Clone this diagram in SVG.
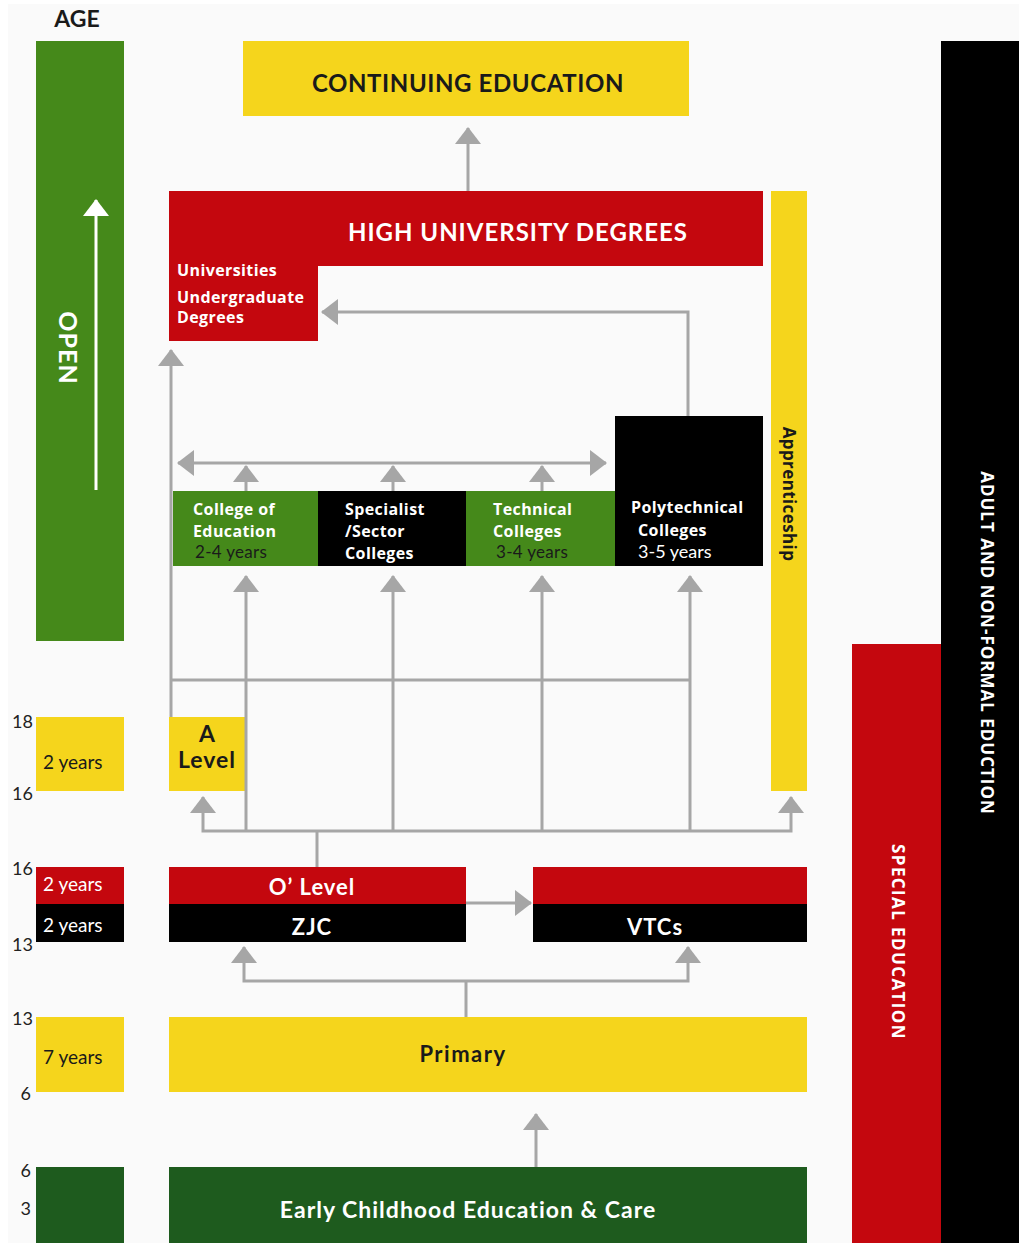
<svg xmlns="http://www.w3.org/2000/svg" width="1019" height="1243" viewBox="0 0 1019 1243">
<defs>
<style>
text{font-family:Lato,"Open Sans","Liberation Sans",sans-serif}
.os{font-family:"Open Sans",Lato,"Liberation Sans",sans-serif;font-weight:bold}
.conn{fill:none;stroke:#a6a6a6;stroke-width:3}
.yel{fill:#f5d51c}
.red{fill:#c4070e}
.grn{fill:#45891a}
.dgrn{fill:#1e5b1e}
.blk{fill:#000}
.age{font-size:18px;fill:#222;text-anchor:end}
.yrs{font-size:19px}
.wb{fill:#fff;font-weight:bold}
.col{font-size:16px;fill:#fff;letter-spacing:0.4px}
.yr2{font-size:17px;fill:#1a1a1a;letter-spacing:0.3px}
</style>
<marker id="ah" markerUnits="userSpaceOnUse" markerWidth="17" markerHeight="26" viewBox="0 0 17 26" refX="16" refY="13" orient="auto-start-reverse">
<path d="M0,0 L17,13 L0,26 z" fill="#a6a6a6"/>
</marker>
<marker id="wh" markerUnits="userSpaceOnUse" markerWidth="17" markerHeight="26" viewBox="0 0 17 26" refX="16" refY="13" orient="auto">
<path d="M0,0 L17,13 L0,26 z" fill="#fff"/>
</marker>
</defs>
<rect width="1019" height="1243" fill="#fff"/>
<rect x="8" y="4" width="1011" height="1239" fill="#fafafa"/>

<g id="age-axis">
<text x="77" y="27" font-size="23" font-weight="bold" text-anchor="middle" fill="#1a1a1a">AGE</text>
<text class="age" x="33" y="728">18</text>
<text class="age" x="33" y="800">16</text>
<text class="age" x="33" y="875">16</text>
<text class="age" x="33" y="951">13</text>
<text class="age" x="33" y="1025">13</text>
<text class="age" x="31" y="1100">6</text>
<text class="age" x="31" y="1177">6</text>
<text class="age" x="31" y="1215">3</text>
</g>

<g id="open">
<rect class="grn" x="36" y="41" width="88" height="600"/>
<path d="M96,490 V200" stroke="#fff" stroke-width="3" fill="none" marker-end="url(#wh)"/>
<text class="wb" font-size="25" transform="translate(59,348) rotate(90)" text-anchor="middle" letter-spacing="1">OPEN</text>
</g>

<g id="dur-alevel">
<rect class="yel" x="36" y="717" width="88" height="74"/>
<text class="yrs" x="43" y="769" fill="#1a1a1a">2 years</text>
</g>
<g id="dur-olevel">
<rect class="red" x="36" y="867" width="88" height="37"/>
<text class="yrs" x="43" y="891" fill="#fff">2 years</text>
</g>
<g id="dur-zjc">
<rect class="blk" x="36" y="904" width="88" height="38"/>
<text class="yrs" x="43" y="932" fill="#fff">2 years</text>
</g>
<g id="dur-primary">
<rect class="yel" x="36" y="1017" width="88" height="75"/>
<text class="yrs" x="43" y="1064" fill="#1a1a1a">7 years</text>
</g>
<g id="dur-ece">
<rect class="dgrn" x="36" y="1167" width="88" height="76"/>
</g>

<g id="continuing">
<rect class="yel" x="243" y="41" width="446" height="75"/>
<text x="468" y="92" font-size="24" font-weight="bold" text-anchor="middle" fill="#1a1a1a" letter-spacing="0.6">CONTINUING EDUCATION</text>
</g>

<g id="university">
<path class="red" d="M169,191 H763 V266 H318 V341 H169 z"/>
<text class="wb" x="518" y="241" font-size="24" text-anchor="middle" letter-spacing="1">HIGH UNIVERSITY DEGREES</text>
<text class="os col" x="177" y="276">Universities</text>
<text class="os col" x="177" y="303">Undergraduate</text>
<text class="os col" x="177" y="323">Degrees</text>
</g>

<g id="apprenticeship">
<rect class="yel" x="771" y="191" width="36" height="600"/>
<text class="os" font-size="17" fill="#1a1a1a" transform="translate(783,494) rotate(90)" text-anchor="middle" letter-spacing="0.4">Apprenticeship</text>
</g>

<g id="adult">
<rect class="blk" x="941" y="41" width="78" height="1202"/>
<text class="os" font-size="17" fill="#fff" transform="translate(981,643) rotate(90)" text-anchor="middle" letter-spacing="1">ADULT AND NON-FORMAL EDUCTION</text>
</g>

<g id="special">
<rect class="red" x="852" y="644" width="89" height="599"/>
<text class="os" font-size="17" fill="#fff" transform="translate(892,942) rotate(90)" text-anchor="middle" letter-spacing="1.4">SPECIAL EDUCATION</text>
</g>

<g id="college-education">
<rect class="grn" x="173" y="491" width="145" height="75"/>
<text class="os col" x="193" y="515">College of</text>
<text class="os col" x="193" y="537">Education</text>
<text class="yr2" x="195" y="558">2-4 years</text>
</g>
<g id="specialist">
<rect class="blk" x="318" y="491" width="148" height="75"/>
<text class="os col" x="345" y="515">Specialist</text>
<text class="os col" x="345" y="537">/Sector</text>
<text class="os col" x="345" y="559">Colleges</text>
</g>
<g id="technical">
<rect class="grn" x="466" y="491" width="149" height="75"/>
<text class="os col" x="493" y="515">Technical</text>
<text class="os col" x="493" y="537">Colleges</text>
<text class="yr2" x="496" y="558">3-4 years</text>
</g>
<g id="polytechnical">
<rect class="blk" x="615" y="416" width="148" height="150"/>
<text class="os col" x="631" y="513">Polytechnical</text>
<text class="os col" x="638" y="536">Colleges</text>
<text x="638" y="558" font-size="18" fill="#fff">3-5 years</text>
</g>

<g id="alevel">
<rect class="yel" x="169" y="717" width="76" height="74"/>
<text x="207" y="742" font-size="23" font-weight="bold" text-anchor="middle" fill="#1a1a1a">A</text>
<text x="207" y="768" font-size="23" font-weight="bold" text-anchor="middle" fill="#1a1a1a" letter-spacing="1">Level</text>
</g>

<g id="olevel-zjc">
<rect class="red" x="169" y="867" width="297" height="37"/>
<rect class="blk" x="169" y="904" width="297" height="38"/>
<text class="wb" x="312" y="895" font-size="22" text-anchor="middle" letter-spacing="1">O’ Level</text>
<text class="wb" x="312" y="935" font-size="22" text-anchor="middle" letter-spacing="1">ZJC</text>
</g>

<g id="vtcs">
<rect class="red" x="533" y="867" width="274" height="37"/>
<rect class="blk" x="533" y="904" width="274" height="38"/>
<text class="wb" x="655" y="935" font-size="22" text-anchor="middle" letter-spacing="1">VTCs</text>
</g>

<g id="primary">
<rect class="yel" x="169" y="1017" width="638" height="75"/>
<text x="463" y="1062" font-size="22" font-weight="bold" text-anchor="middle" fill="#1a1a1a" letter-spacing="1.5">Primary</text>
</g>

<g id="ece">
<rect class="dgrn" x="169" y="1167" width="638" height="76"/>
<text x="468" y="1218" font-size="23" font-weight="bold" text-anchor="middle" fill="#fff" letter-spacing="1">Early Childhood Education &amp; Care</text>
</g>

<g id="connectors">
<path class="conn" d="M468,191 V128" marker-end="url(#ah)"/>
<path class="conn" d="M688,416 V312 H322" marker-end="url(#ah)"/>
<path class="conn" d="M171,717 V350" marker-end="url(#ah)"/>
<path class="conn" d="M171,680 H690"/>
<path class="conn" d="M178,463 H606" marker-start="url(#ah)" marker-end="url(#ah)"/>
<path class="conn" d="M246,491 V466" marker-end="url(#ah)"/>
<path class="conn" d="M393,491 V466" marker-end="url(#ah)"/>
<path class="conn" d="M542,491 V466" marker-end="url(#ah)"/>
<path class="conn" d="M246,831 V576" marker-end="url(#ah)"/>
<path class="conn" d="M393,831 V576" marker-end="url(#ah)"/>
<path class="conn" d="M542,831 V576" marker-end="url(#ah)"/>
<path class="conn" d="M690,831 V576" marker-end="url(#ah)"/>
<path class="conn" d="M203,797 V831 H791 V797" marker-start="url(#ah)" marker-end="url(#ah)"/>
<path class="conn" d="M317,867 V831"/>
<path class="conn" d="M466,903 H531" marker-end="url(#ah)"/>
<path class="conn" d="M466,1017 V981"/>
<path class="conn" d="M244,947 V981 H688 V947" marker-start="url(#ah)" marker-end="url(#ah)"/>
<path class="conn" d="M536,1167 V1114" marker-end="url(#ah)"/>
</g>
</svg>
